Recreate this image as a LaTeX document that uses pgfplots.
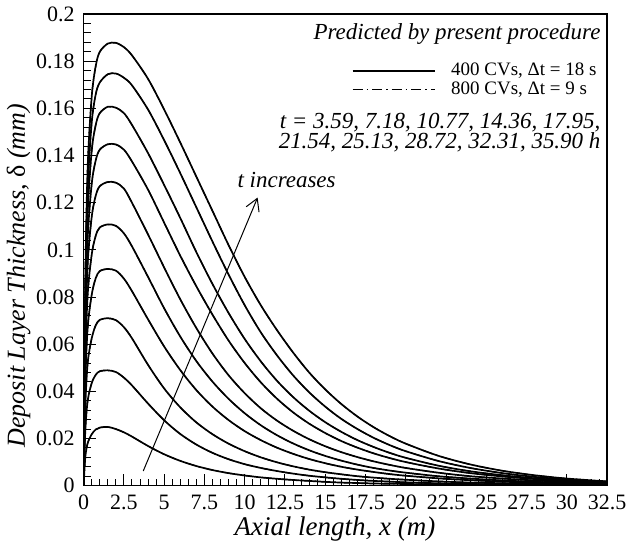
\documentclass[border=0pt]{standalone}
\usepackage{pgfplots}
\pgfplotsset{compat=1.18}
\usepackage{pgfplotstable}
\usepackage{fontspec}
\setmainfont{Liberation Serif}
\usetikzlibrary{arrows.meta}

\pgfplotstableread{
x     c1     c2     c3     c4     c5     c6     c7     c8     c9     c10
0     0      0      0      0      0      0      0      0      0      0
0.1   0.012  0.023  0.033  0.043  0.052  0.060  0.067  0.074  0.080  0.085
0.25  0.018  0.036  0.052  0.067  0.081  0.094  0.105  0.116  0.126  0.135
0.5   0.0218 0.0435 0.0625 0.081  0.098  0.114  0.128  0.142  0.154  0.165
0.75  0.0238 0.047  0.068  0.088  0.106  0.123  0.138  0.153  0.166  0.178
1     0.0246 0.0485 0.0703 0.091  0.1095 0.127  0.1425 0.158  0.171  0.184
1.5   0.0249 0.0489 0.071  0.0919 0.1108 0.1288 0.1448 0.1607 0.1745 0.1875
2     0.0240 0.0482 0.0702 0.0912 0.1102 0.1285 0.1447 0.1603 0.1748 0.1878
2.5   0.0226 0.0458 0.0672 0.0878 0.107  0.126  0.1425 0.1580 0.1730 0.186
3     0.0208 0.0425 0.0625 0.0825 0.1015 0.120  0.1375 0.1530 0.1698 0.1825
4     0.0168 0.0348 0.0512 0.0705 0.0885 0.1065 0.1255 0.1410 0.1595 0.1725
5     0.0133 0.0277 0.0412 0.059  0.0752 0.0925 0.1115 0.1275 0.1465 0.1595
6     0.0105 0.0219 0.0332 0.049  0.0632 0.079  0.0975 0.1135 0.1325 0.1455
7     0.0083 0.0174 0.0268 0.0405 0.0528 0.0668 0.0845 0.099  0.118  0.131
8     0.0066 0.0139 0.0218 0.0335 0.0441 0.056  0.0725 0.0855 0.1035 0.1165
9     0.0053 0.0112 0.0178 0.0278 0.0368 0.0468 0.0615 0.0732 0.0895 0.102
10    0.0043 0.0091 0.0146 0.0231 0.0307 0.0392 0.052  0.0622 0.0765 0.0885
11    0.0035 0.0075 0.012  0.0193 0.0256 0.0328 0.0438 0.0527 0.065  0.0765
12    0.0029 0.0062 0.0099 0.0161 0.0214 0.0276 0.0369 0.0445 0.0553 0.066
13    0.0024 0.0051 0.0082 0.0135 0.0179 0.0233 0.0311 0.0376 0.0468 0.0565
14    0.002  0.0042 0.0068 0.0113 0.015  0.0197 0.0263 0.0318 0.0396 0.048
15    0.0016 0.0035 0.0057 0.0095 0.0126 0.0167 0.0223 0.0269 0.0335 0.0408
16    0.0013 0.0029 0.0048 0.008  0.0106 0.0142 0.0189 0.0228 0.0283 0.0346
17    0.0011 0.0024 0.004  0.0068 0.0089 0.0121 0.0161 0.0193 0.024  0.0293
18    0.0009 0.002  0.0034 0.0058 0.0075 0.0103 0.0137 0.0164 0.0203 0.0248
19    0.0008 0.0017 0.0029 0.0049 0.0064 0.0088 0.0117 0.0139 0.0172 0.021
20    0.0007 0.0014 0.0025 0.0042 0.0055 0.0075 0.01   0.0118 0.0146 0.0178
22    0.0005 0.001  0.0018 0.0031 0.004  0.0055 0.0073 0.0085 0.0105 0.0127
24    0.0004 0.0007 0.0013 0.0023 0.003  0.004  0.0053 0.0061 0.0075 0.009
26    0.0003 0.0005 0.001  0.0017 0.0022 0.003  0.0039 0.0044 0.0053 0.0063
28    0.0002 0.0004 0.0007 0.0012 0.0016 0.0022 0.0028 0.0031 0.0037 0.0044
30    0.0002 0.0003 0.0005 0.0009 0.0012 0.0016 0.002  0.0022 0.0026 0.003
32.5  0.0001 0.0002 0.0004 0.0006 0.0008 0.0011 0.0013 0.0014 0.0016 0.0018
}\data

\begin{document}
\begin{tikzpicture}
\begin{axis}[
  scale only axis,
  width=262pt, height=236pt,
  xmin=0, xmax=32.5, ymin=0, ymax=0.2,
  xtick={0,2.5,...,32.5},
  ytick={0,0.02,...,0.2},
  minor x tick num=4,
  minor y tick num=4,
  tick align=inside,
  xtick pos=left, ytick pos=left,
  major tick length=6pt, minor tick length=3.5pt,
  tick style={black, line width=0.5pt},
  axis line style={line width=0.8pt},
  /pgf/number format/assume math mode=true,
  /pgf/number format/fixed,
  /pgf/number format/precision=2,
  tick label style={font=\fontsize{11}{12}\selectfont},
  xticklabel style={yshift=-1pt},
  yticklabel style={xshift=-1pt},
  xlabel={\textit{Axial length, x (m)}},
  ylabel={\textit{Deposit Layer Thickness, {\upshape δ} (mm)}},
  xlabel style={font=\fontsize{13.5}{15}\selectfont, at={(ticklabel cs:0.48)}, yshift=3pt},
  ylabel style={font=\fontsize{13}{15}\selectfont, at={(ticklabel cs:0.445)}, yshift=-4pt},
  legend style={draw=none, fill=none, at={(rel axis cs:0.988,0.905)}, anchor=north east,
    font=\fontsize{9.5}{10}\selectfont, row sep=-2.5pt, inner sep=0pt},
  legend cell align=left,
  legend image code/.code={\draw[#1] (0cm,0cm) -- (1.45cm,0cm); \path (1.65cm,0cm);},
  clip=true,
]
\addplot[black, line width=0.85pt, smooth] table[x=x, y=c1] {\data};
\addlegendentry{400 CVs, Δt = 18 s}
\addplot[black, line width=0.6pt, dash pattern=on 5pt off 2pt on 0.8pt off 2pt, smooth] table[x=x, y=c1] {\data};
\addlegendentry{800 CVs, Δt = 9 s}
\pgfplotsinvokeforeach{2,...,10}{
  \addplot[black, line width=0.85pt, smooth, forget plot] table[x=x, y=c#1] {\data};
  \addplot[black, line width=0.6pt, dash pattern=on 5pt off 2pt on 0.8pt off 2pt, smooth, forget plot] table[x=x, y=c#1] {\data};
}
\node[anchor=east, inner sep=0pt, font=\fontsize{11.5}{13}\selectfont\itshape] at (rel axis cs:0.988,0.958) {Predicted by present procedure};
\node[anchor=north east, align=right, font=\fontsize{11.5}{10}\selectfont\itshape, inner sep=0pt] at (rel axis cs:0.988,0.79)
  {t = 3.59, 7.18, 10.77, 14.36, 17.95,\\ 21.54, 25.13, 28.72, 32.31, 35.90 h};
\node[font=\fontsize{11.5}{13}\selectfont\itshape] at (axis cs:12.6,0.1295) {t increases};
\draw[line width=0.5pt, -{Straight Barb[length=6pt,width=7pt]}] (axis cs:3.7,0.0062) -- (axis cs:10.8,0.1222);
\end{axis}
\end{tikzpicture}
\end{document}
